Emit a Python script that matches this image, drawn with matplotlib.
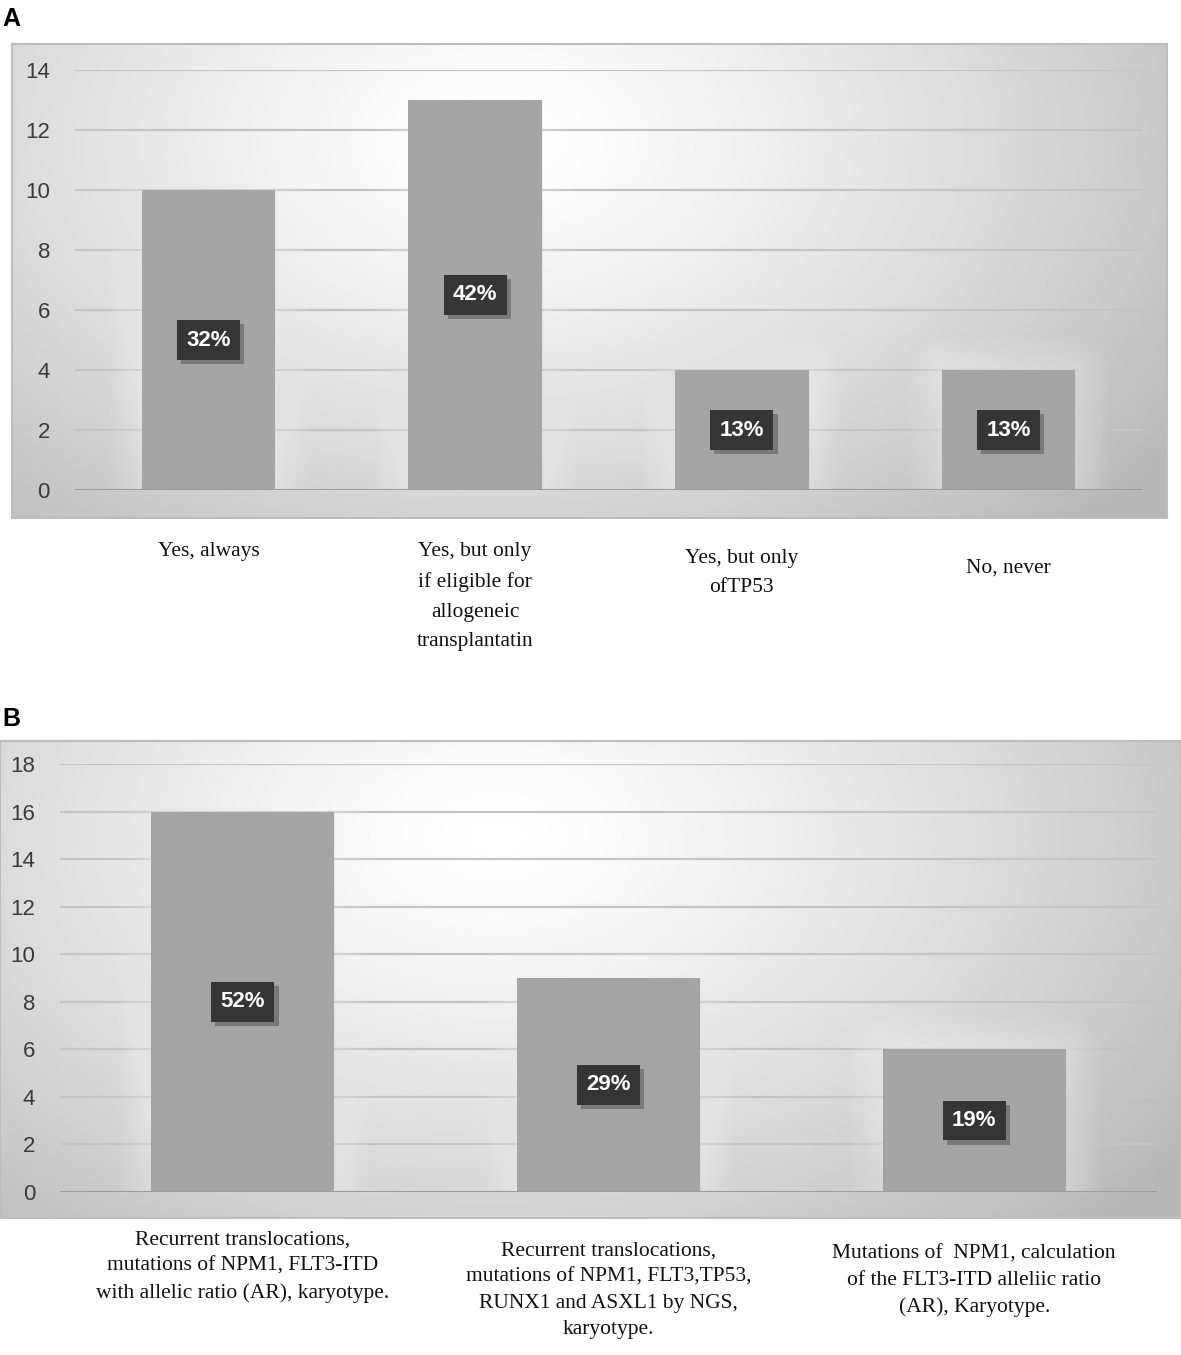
import numpy as np
import matplotlib
matplotlib.use("Agg")
import matplotlib.pyplot as plt
import matplotlib.patheffects as pe

# panel A
cats_a = ["Yes, always",
          "Yes, but only\nif eligible for\nallogeneic\ntransplantatin",
          "Yes, but only\nofTP53",
          "No, never"]
vals_a = [10, 13, 4, 4]
pct_a = ["32%", "42%", "13%", "13%"]
ticks_a = [0, 2, 4, 6, 8, 10, 12, 14]

# panel B
cats_b = ["Recurrent translocations,\nmutations of NPM1, FLT3-ITD\nwith allelic ratio (AR), karyotype.",
          "Recurrent translocations,\nmutations of NPM1, FLT3,TP53,\nRUNX1 and ASXL1 by NGS,\nkaryotype.",
          "Mutations of  NPM1, calculation\nof the FLT3-ITD alleliic ratio\n(AR), Karyotype."]
vals_b = [16, 9, 6]
pct_b = ["52%", "29%", "19%"]
ticks_b = [0, 2, 4, 6, 8, 10, 12, 14, 16, 18]

W, H = 1181, 1355
fig = plt.figure(figsize=(W / 100, H / 100), dpi=100)


def frac(x0, y0, x1, y1):
    # pixel box (top-left origin) -> figure fraction rect
    return [x0 / W, 1 - y1 / H, (x1 - x0) / W, (y1 - y0) / H]


def background(rect):
    bg = fig.add_axes(rect, zorder=0)
    nx, ny = 400, 200
    xx, yy = np.meshgrid(np.linspace(0, 1, nx), np.linspace(0, 1, ny))
    r = np.sqrt(((xx - 0.42) / 0.62) ** 2 + ((yy - 0.2) / 1.0) ** 2)
    v = np.clip(1.0 - 0.23 * r ** 1.3, 0.72, 1.0)
    bg.imshow(v, cmap="gray", vmin=0, vmax=1, aspect="auto",
              extent=[0, 1, 1, 0], interpolation="bilinear")
    bg.set_xticks([])
    bg.set_yticks([])
    for s in bg.spines.values():
        s.set_color("#bdbdbd")
        s.set_linewidth(1.5)


def panel(rect, vals, pct, ticks, cats, offsets, fs, lsp):
    ax = fig.add_axes(rect, zorder=1)
    ax.patch.set_alpha(0)
    x = np.arange(len(vals))
    for t in ticks[1:]:
        ax.axhline(t, color="#c4c4c4", lw=1.6, zorder=1)
    ax.axhline(0, color="#9c9c9c", lw=2.2, zorder=3)
    # soft white halo around the bars
    glow = [pe.Stroke(linewidth=w, foreground="white", alpha=0.035,
                      joinstyle="round")
            for w in range(48, 2, -4)] + [pe.Normal()]
    ax.bar(x, vals, width=0.5, color="#a5a5a5", zorder=2, path_effects=glow)
    ax.set_xlim(-0.5, len(vals) - 0.5)
    ax.set_ylim(0, ticks[-1])
    ax.set_yticks(ticks)
    ax.set_xticks([])
    ax.tick_params(axis="y", length=0, pad=18, labelsize=16,
                   labelcolor="#3a3a3a")
    for lab in ax.get_yticklabels():
        lab.set_family("Liberation Sans")
    for s in ax.spines.values():
        s.set_visible(False)
    for xi, v, p in zip(x, vals, pct):
        t = ax.text(xi, v / 2, p, ha="center", va="center", fontsize=16,
                    fontweight="bold", color="white", family="Liberation Sans",
                    zorder=5,
                    bbox=dict(boxstyle="square,pad=0.42", fc="#353535",
                              ec="none"))
        t.get_bbox_patch().set_path_effects(
            [pe.SimplePatchShadow(offset=(3, -3), shadow_rgbFace="#6f6f6f",
                                  alpha=0.8), pe.Normal()])
    for xi, c, off in zip(x, cats, offsets):
        ax.annotate(c, xy=(xi, 0), xycoords=("data", "axes fraction"),
                    xytext=(0, -off), textcoords="offset pixels",
                    ha="center", va="top", fontsize=fs, linespacing=lsp,
                    family="Liberation Serif", color="#111111",
                    annotation_clip=False)
    return ax


background(frac(12, 44, 1167, 518))
panel(frac(75, 70, 1142, 490), vals_a, pct_a, ticks_a, cats_a,
      [52, 52, 59, 69], 15.5, 1.75)

background(frac(0, 741, 1181, 1218))
panel(frac(60, 764, 1157, 1192), vals_b, pct_b, ticks_b, cats_b,
      [39, 50, 53], 15.5, 1.5)

fig.text(2 / W, 1 - 19 / H, "A", fontsize=18, fontweight="bold",
         family="Liberation Sans", va="center", ha="left")
fig.text(2 / W, 1 - 719 / H, "B", fontsize=18, fontweight="bold",
         family="Liberation Sans", va="center", ha="left")

fig.savefig("out.png", dpi=100)
